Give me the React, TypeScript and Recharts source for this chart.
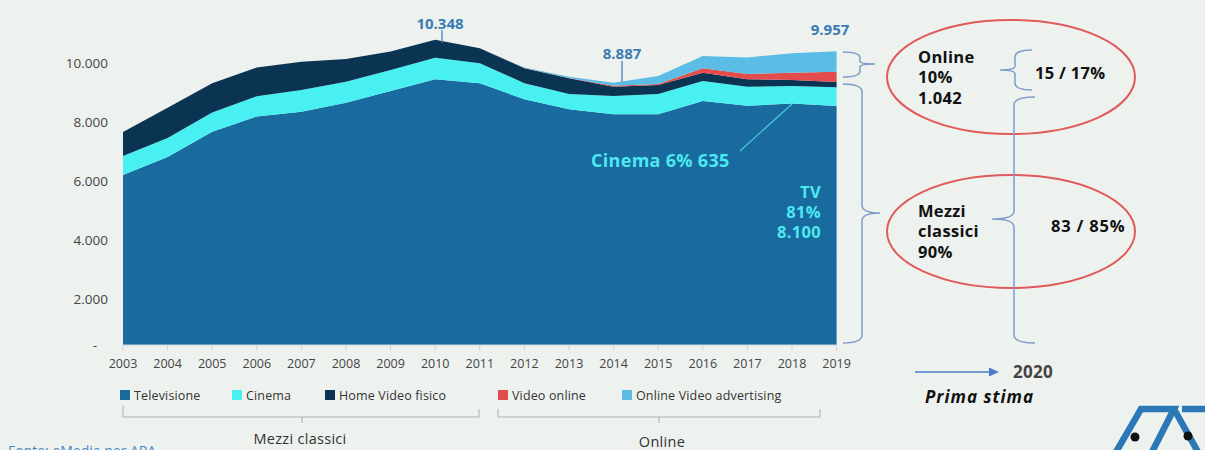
import React from 'react';
import { AreaChart, Area, XAxis, YAxis } from 'recharts';

const FONT = '"Open Sans", "Noto Sans", sans-serif';

// ---- data (millions of euro) ----
const years = ['2003', '2004', '2005', '2006', '2007', '2008', '2009', '2010', '2011', '2012', '2013', '2014', '2015', '2016', '2017', '2018', '2019'];
const televisione = [5765, 6370, 7230, 7745, 7910, 8215, 8610, 9005, 8870, 8330, 7990, 7820, 7820, 8270, 8110, 8190, 8100];
const cinema = [640, 645, 650, 690, 735, 710, 715, 730, 680, 545, 520, 620, 690, 680, 645, 590, 635];
const homeVideo = [815, 1030, 990, 970, 960, 770, 620, 613, 510, 510, 530, 315, 305, 280, 250, 205, 180];
const videoOnline = [0, 0, 0, 0, 0, 0, 0, 0, 0, 5, 10, 35, 35, 150, 180, 245, 349];
const onlineAdv = [0, 0, 0, 0, 0, 0, 0, 0, 0, 15, 40, 97, 270, 415, 565, 660, 693];
const yTicks = [0, 2000, 4000, 6000, 8000, 10000];

const series = [
  { key: 'tv', name: 'Televisione', color: '#186A9F' },
  { key: 'cinema', name: 'Cinema', color: '#48F0F2' },
  { key: 'hv', name: 'Home Video fisico', color: '#0A3452' },
  { key: 'vo', name: 'Video online', color: '#E24C4C' },
  { key: 'ova', name: 'Online Video advertising', color: '#5BBDE6' },
];

const data = years.map((y, i) => ({
  year: y,
  tv: televisione[i],
  cinema: cinema[i],
  hv: homeVideo[i],
  vo: videoOnline[i],
  ova: onlineAdv[i],
}));

const total = (i: number) => televisione[i] + cinema[i] + homeVideo[i] + videoOnline[i] + onlineAdv[i];
const fmt = (n: number) => (n === 0 ? '-' : String(Math.round(n)).replace(/\B(?=(\d{3})+(?!\d))/g, '.'));

const i2010 = years.indexOf('2010');
const i2014 = years.indexOf('2014');
const i2019 = years.indexOf('2019');
const online2019 = videoOnline[i2019] + onlineAdv[i2019];

const YTick = (props: any) => {
  const { x, y, payload } = props;
  const v = payload.value as number;
  return (
    <text
      x={v === 0 ? x - 18 : x - 7}
      y={v === 0 ? y : y + 13}
      dy="0.35em"
      textAnchor="end"
      fill="#444"
      fontSize={13.5}
      fontFamily={FONT}
    >
      {fmt(v)}
    </text>
  );
};

const legendX = [120, 232, 325, 498, 622];
const BRACE = '#7E9CCB';
const RED = '#E05A5A';
const LABEL_BLUE = '#3A7BB5';
const CYAN = '#4DE8F0';

const bold = { fill: '#111', fontSize: 16.5, fontWeight: 700, letterSpacing: 0.3 } as const;

export default function App() {
  return (
    <div style={{ position: 'absolute', left: 0, top: 0, width: 1205, height: 450, background: '#EEF2EF', overflow: 'hidden' }}>
      <AreaChart
        width={1205}
        height={450}
        data={data}
        margin={{ top: 20.5, right: 368.4, left: 63, bottom: 75 }}
      >
        <XAxis
          dataKey="year"
          axisLine={{ stroke: '#CDD6DA' }}
          tickLine={{ stroke: '#CDD6DA' }}
          tickSize={6}
          tickMargin={8}
          height={30}
          interval={0}
          tick={{ fill: '#444', fontSize: 12.5, fontFamily: FONT }}
        />
        <YAxis
          width={60}
          domain={[0, 11000]}
          ticks={yTicks}
          allowDataOverflow
          axisLine={false}
          tickLine={false}
          tick={<YTick />}
        />
        {series.map((s) => (
          <Area
            key={s.key}
            type="linear"
            dataKey={s.key}
            name={s.name}
            stackId="a"
            stroke="none"
            fill={s.color}
            fillOpacity={1}
            isAnimationActive={false}
          />
        ))}
      </AreaChart>

      <svg width={1205} height={450} style={{ position: 'absolute', left: 0, top: 0, pointerEvents: 'none' }} fontFamily={FONT}>
        {/* value callouts */}
        <text x={440} y={23} textAnchor="middle" dominantBaseline="central" fill={LABEL_BLUE} fontSize={15} fontWeight={700}>{fmt(total(i2010))}</text>
        <line x1={442} y1={30} x2={442} y2={43} stroke={LABEL_BLUE} strokeWidth={1.2} />
        <text x={622} y={53} textAnchor="middle" dominantBaseline="central" fill={LABEL_BLUE} fontSize={15} fontWeight={700}>{fmt(total(i2014))}</text>
        <line x1={622} y1={61} x2={622} y2={82} stroke={LABEL_BLUE} strokeWidth={1.2} />
        <text x={830} y={29} textAnchor="middle" dominantBaseline="central" fill={LABEL_BLUE} fontSize={15} fontWeight={700}>{fmt(total(i2019))}</text>

        <text x={591} y={160} dominantBaseline="central" fill={CYAN} fontSize={18} fontWeight={700} letterSpacing={0.3}>{`Cinema 6% ${cinema[i2019]}`}</text>
        <line x1={740} y1={151} x2={792} y2={104} stroke="#49C8DA" strokeWidth={1.2} />
        <text textAnchor="end" fill={CYAN} fontSize={16.5} fontWeight={700} letterSpacing={0.3}>
          <tspan x={821} y={198}>TV</tspan>
          <tspan x={821} y={218}>81%</tspan>
          <tspan x={821} y={238}>{fmt(televisione[i2019])}</tspan>
        </text>

        {/* braces next to the chart */}
        <path d="M843,52 Q860,52 860,58 L860,61 Q860,64 875,64 Q860,64 860,67 L860,71 Q860,77 843,77" fill="none" stroke={BRACE} strokeWidth={1.5} />
        <path d="M843,84 Q862,84 862,92 L862,205 Q862,213 880,213 Q862,213 862,221 L862,335 Q862,343 843,343" fill="none" stroke={BRACE} strokeWidth={1.5} />

        {/* ellipses */}
        <ellipse cx={1011} cy={77} rx={124} ry={57} fill="none" stroke={RED} strokeWidth={2} />
        <ellipse cx={1011} cy={231.5} rx={124} ry={56.5} fill="none" stroke={RED} strokeWidth={2} />

        <text {...bold}>
          <tspan x={918} y={63}>Online</tspan>
          <tspan x={918} y={83}>10%</tspan>
          <tspan x={918} y={104}>{fmt(online2019)}</tspan>
        </text>

        <text {...bold}>
          <tspan x={918} y={217}>Mezzi</tspan>
          <tspan x={918} y={237}>classici</tspan>
          <tspan x={918} y={258}>90%</tspan>
        </text>

        <path d="M1032,50 Q1015,50 1015,57 L1015,66 Q1015,70 1000,70 Q1015,70 1015,74 L1015,83 Q1015,90 1032,90" fill="none" stroke={BRACE} strokeWidth={1.5} />
        <path d="M1035,97 Q1014,97 1014,105 L1014,211 Q1014,219 992,219 Q1014,219 1014,227 L1014,335 Q1014,343 1035,343" fill="none" stroke={BRACE} strokeWidth={1.5} />

        <text x={1035} y={72} dominantBaseline="central" {...bold}>15 / 17%</text>
        <text x={1051} y={225} dominantBaseline="central" {...bold} letterSpacing={0.8}>83 / 85%</text>

        {/* 2020 arrow */}
        <line x1={915} y1={372} x2={990} y2={372} stroke="#4A7AC8" strokeWidth={1.5} />
        <polygon points="999,372 989,367.5 989,376.5" fill="#4A7AC8" />
        <text x={1013} y={371} dominantBaseline="central" fill="#444" fontSize={17} fontWeight={700} letterSpacing={0.3}>2020</text>
        <text x={925} y={396} dominantBaseline="central" fill="#111" fontSize={17} fontWeight={700} fontStyle="italic" letterSpacing={1}>Prima stima</text>

        {/* legend */}
        {series.map((s, i) => (
          <g key={s.key}>
            <rect x={legendX[i]} y={390} width={10} height={10} fill={s.color} />
            <text x={legendX[i] + 14} y={395} dominantBaseline="central" fill="#333" fontSize={12.5} letterSpacing={0.15}>{s.name}</text>
          </g>
        ))}

        {/* group brackets */}
        <path d="M123,405 L123,417 L479,417 L479,409 M302,417 L302,423" fill="none" stroke="#A9B1B5" strokeWidth={1} />
        <path d="M498,409 L498,417 L820,417 L820,409 M659,417 L659,423" fill="none" stroke="#A9B1B5" strokeWidth={1} />
        <text x={300} y={438} textAnchor="middle" dominantBaseline="central" fill="#333" fontSize={14.5} letterSpacing={0.3}>Mezzi  classici</text>
        <text x={662} y={441} textAnchor="middle" dominantBaseline="central" fill="#333" fontSize={14.5} letterSpacing={0.3}>Online</text>

        <text x={8} y={456} fill="#4A86C5" fontSize={14}>Fonte: eMedia per APA</text>

        {/* APA logo (approximation) */}
        <g fill="none" stroke="#2A78B6" strokeWidth={6.5} strokeLinejoin="miter">
          <path d="M1116,452 L1141,409 L1160,409" />
          <path d="M1160,409 L1174,409 L1152,452" />
          <path d="M1174,409 L1198,452" />
          <path d="M1182,409 L1205,409" />
        </g>
        <circle cx={1135} cy={437} r={4.5} fill="#111" />
        <circle cx={1188} cy={436} r={4.5} fill="#111" />
      </svg>
    </div>
  );
}
